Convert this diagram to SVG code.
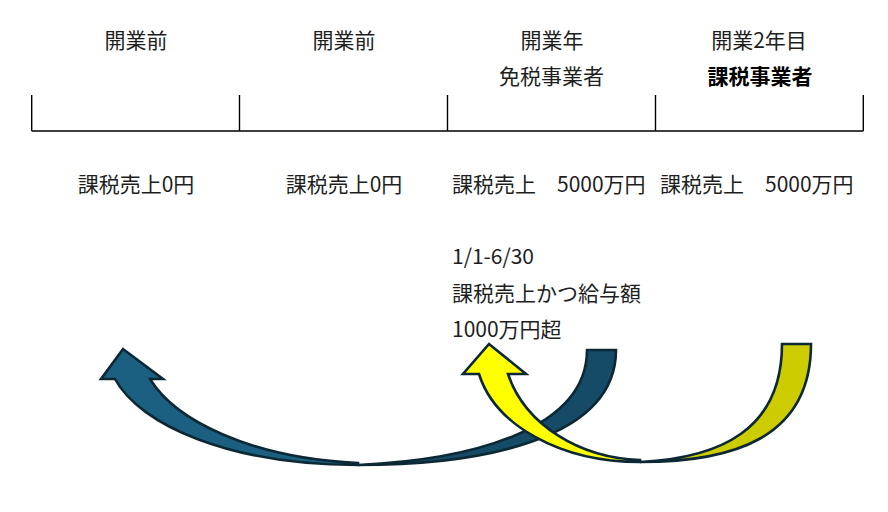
<svg xmlns="http://www.w3.org/2000/svg" width="888" height="512" viewBox="0 0 888 512">
<style>
text{font-family:"Noto Sans CJK JP","Noto Sans",sans-serif;font-size:21px;fill:#1e1e1e}
.c{text-anchor:middle}
.b{font-weight:bold;fill:#000}
.ln{stroke:#000;stroke-width:1.4;fill:none}
.arw{stroke:#0d2835;stroke-width:2.6;stroke-linejoin:miter}
.bh{fill:#1b6081}
.bt{fill:#154b66}
.yh{fill:#ffff00}
.yt{fill:#cccc00}
</style>
<rect width="888" height="512" fill="#fff"/>
<g id="timeline">
<path class="ln" d="M31.7,131H863.3M31.7,95V131M239.5,95V131M447.5,95V131M655.5,95V131M863.3,95V131"/>
</g>
<g id="col1">
<text class="c" x="136" y="47.5">開業前</text>
<text class="c" x="136" y="192">課税売上0円</text>
</g>
<g id="col2">
<text class="c" x="344" y="47.5">開業前</text>
<text class="c" x="344" y="192">課税売上0円</text>
</g>
<g id="col3">
<text class="c" x="552" y="47.5">開業年</text>
<text class="c" x="551.5" y="83.5">免税事業者</text>
<text x="452" y="192">課税売上　5000万円</text>
<text x="452" y="264">1/1-6/30</text>
<text x="452" y="300.5">課税売上かつ給与額</text>
<text x="452" y="336.5">1000万円超</text>
</g>
<g id="col4">
<text class="c" x="759" y="47.5">開業2年目</text>
<text class="c b" x="760" y="83.5">課税事業者</text>
<text x="660" y="192">課税売上　5000万円</text>
</g>
<g id="connectors">
<g id="arrow-blue">
<path class="arw bt" d="M587,350L616,350C616,440 480,465 358,465C470,460 587,430 587,350Z"/>
<path class="arw bh" d="M358,465C230,465 140,425 115,379L101,379L123,349L163,379L150,379C175,420 250,458 358,463Z"/>
</g>
<g id="arrow-yellow">
<path class="arw yt" d="M782,344L811,344C811,440 730,462 640,462C720,458 782,430 782,344Z"/>
<path class="arw yh" d="M640,462C560,462 495,425 479,374L463,374L489,344L526,374L508,374C525,425 580,458 640,460Z"/>
</g>
</g>
</svg>
